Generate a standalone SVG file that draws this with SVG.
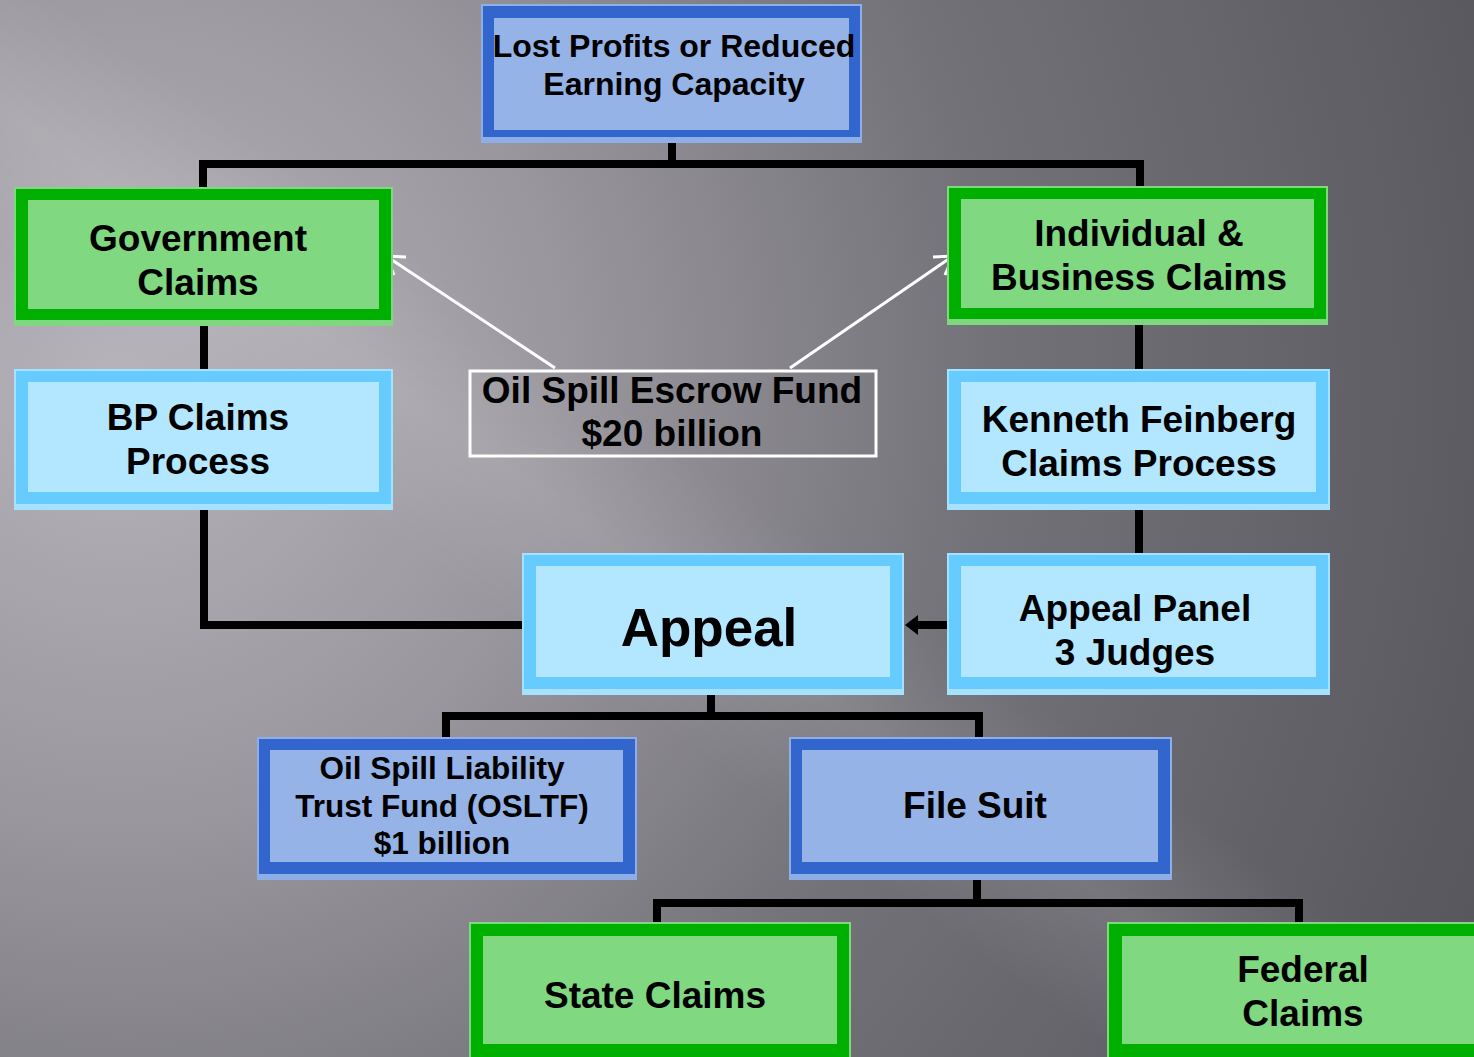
<svg xmlns="http://www.w3.org/2000/svg" width="1474" height="1057" viewBox="0 0 1474 1057">
<defs>
<radialGradient id="bg" cx="120" cy="380" r="1450" gradientUnits="userSpaceOnUse">
<stop offset="0" stop-color="#b6b4ba"/>
<stop offset="0.3" stop-color="#9a989e"/>
<stop offset="0.6" stop-color="#737278"/>
<stop offset="1" stop-color="#58575d"/>
</radialGradient>
<linearGradient id="band" x1="0" y1="1" x2="1" y2="0">
<stop offset="0" stop-color="#ffffff" stop-opacity="0"/>
<stop offset="0.38" stop-color="#ffffff" stop-opacity="0"/>
<stop offset="0.45" stop-color="#ffffff" stop-opacity="0.1"/>
<stop offset="0.52" stop-color="#ffffff" stop-opacity="0"/>
<stop offset="1" stop-color="#ffffff" stop-opacity="0"/>
</linearGradient>
</defs>
<style>
.t{font-family:"Liberation Sans",Arial,sans-serif;font-weight:bold;fill:#000;text-anchor:middle}
.gE{fill:#7fd87f}.gB{fill:#00b000}.gI{fill:#80d880}
.bE{fill:#8eaee8}.bB{fill:#3366cc}.bI{fill:#95b3e6}
.lE{fill:#a6e2ff}.lB{fill:#66ccff}.lI{fill:#b3e6ff}
.c{fill:none;stroke:#000;stroke-width:8;stroke-linejoin:miter}
.w{fill:none;stroke:#fff;stroke-width:3}
</style>
<rect width="1474" height="1057" fill="url(#bg)"/>
<rect width="1474" height="1057" fill="url(#band)"/>

<g id="connectors">
<path class="c" d="M672,143 V164 M203,187 V164 H1140 V186"/>
<path class="c" d="M204,326 V369"/>
<path class="c" d="M204,510 V625 H522"/>
<path class="c" d="M1139,325 V369"/>
<path class="c" d="M1139,510 V553"/>
<path class="c" d="M711,695 V716 M446,737 V716 H979 V737"/>
<path class="c" d="M977,880 V903 M657,922 V903 H1299 V922"/>
<path class="c" d="M947,625 H916"/>
<polygon points="905,625 918,615 918,635" fill="#000"/>
<path class="w" d="M555,368 L386,256 M790,368 L953,256"/>
<path class="w" d="M406,257 L386,256 L394,275 M933,257 L953,256 L945,275"/>
</g>

<g id="top">
<rect class="bE" x="481" y="4" width="381" height="139"/>
<rect class="bB" x="483" y="6" width="377" height="131"/>
<rect class="bI" x="494" y="18" width="355" height="112"/>
<text class="t" font-size="32" x="674" y="57">Lost Profits or Reduced</text>
<text class="t" font-size="32" x="674" y="95">Earning Capacity</text>
</g>

<g id="gov">
<rect class="gE" x="14" y="187" width="379" height="139"/>
<rect class="gB" x="16" y="189" width="375" height="131"/>
<rect class="gI" x="28" y="200" width="351" height="109"/>
<text class="t" font-size="37" x="198" y="251">Government</text>
<text class="t" font-size="37" x="198" y="295">Claims</text>
</g>

<g id="indiv">
<rect class="gE" x="947" y="186" width="381" height="139"/>
<rect class="gB" x="949" y="188" width="377" height="131"/>
<rect class="gI" x="961" y="199" width="353" height="109"/>
<text class="t" font-size="37" x="1139" y="246">Individual &amp;</text>
<text class="t" font-size="37" x="1139" y="290">Business Claims</text>
</g>

<g id="bp">
<rect class="lE" x="14" y="369" width="379" height="141"/>
<rect class="lB" x="16" y="371" width="375" height="133"/>
<rect class="lI" x="28" y="382" width="351" height="110"/>
<text class="t" font-size="37" x="198" y="430">BP Claims</text>
<text class="t" font-size="37" x="198" y="474">Process</text>
</g>

<g id="escrow">
<rect class="w" x="470" y="371" width="406" height="85"/>
<text class="t" font-size="37" x="672" y="403">Oil Spill Escrow Fund</text>
<text class="t" font-size="37" x="672" y="446">$20 billion</text>
</g>

<g id="kf">
<rect class="lE" x="947" y="369" width="383" height="141"/>
<rect class="lB" x="949" y="371" width="379" height="133"/>
<rect class="lI" x="961" y="382" width="355" height="110"/>
<text class="t" font-size="37" x="1139" y="432">Kenneth Feinberg</text>
<text class="t" font-size="37" x="1139" y="476">Claims Process</text>
</g>

<g id="appeal">
<rect class="lE" x="522" y="553" width="382" height="142"/>
<rect class="lB" x="524" y="555" width="378" height="134"/>
<rect class="lI" x="536" y="566" width="354" height="111"/>
<text class="t" font-size="53" x="709" y="646">Appeal</text>
</g>

<g id="panel">
<rect class="lE" x="947" y="553" width="383" height="142"/>
<rect class="lB" x="949" y="555" width="379" height="134"/>
<rect class="lI" x="961" y="566" width="355" height="111"/>
<text class="t" font-size="37" x="1135" y="621">Appeal Panel</text>
<text class="t" font-size="37" x="1135" y="665">3 Judges</text>
</g>

<g id="osltf">
<rect class="bE" x="257" y="737" width="380" height="143"/>
<rect class="bB" x="259" y="739" width="376" height="135"/>
<rect class="bI" x="270" y="750" width="353" height="112"/>
<text class="t" font-size="31.5" x="442" y="779">Oil Spill Liability</text>
<text class="t" font-size="31.5" x="442" y="817">Trust Fund (OSLTF)</text>
<text class="t" font-size="31.5" x="442" y="854">$1 billion</text>
</g>

<g id="filesuit">
<rect class="bE" x="789" y="737" width="383" height="143"/>
<rect class="bB" x="791" y="739" width="379" height="135"/>
<rect class="bI" x="802" y="750" width="356" height="112"/>
<text class="t" font-size="37" x="975" y="818">File Suit</text>
</g>

<g id="state">
<rect class="gE" x="469" y="922" width="382" height="150"/>
<rect class="gB" x="471" y="924" width="378" height="142"/>
<rect class="gI" x="483" y="936" width="354" height="108"/>
<text class="t" font-size="37" x="655" y="1008">State Claims</text>
</g>

<g id="federal">
<rect class="gE" x="1107" y="922" width="380" height="150"/>
<rect class="gB" x="1109" y="924" width="376" height="142"/>
<rect class="gI" x="1122" y="936" width="352" height="108"/>
<text class="t" font-size="37" x="1303" y="982">Federal</text>
<text class="t" font-size="37" x="1303" y="1026">Claims</text>
</g>
</svg>
